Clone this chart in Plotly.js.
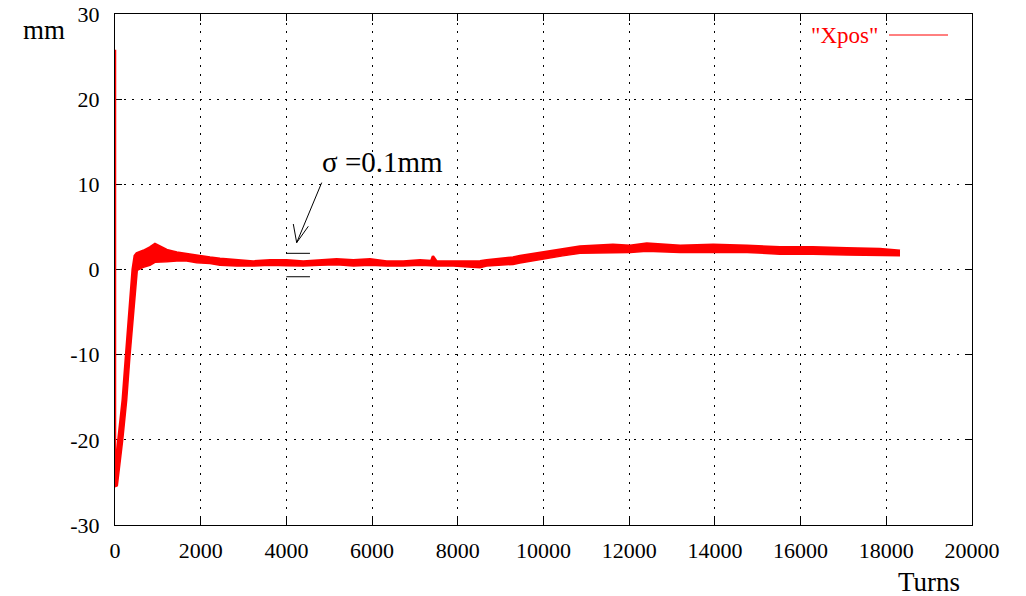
<!DOCTYPE html>
<html>
<head>
<meta charset="utf-8">
<script src="https://cdn.plot.ly/plotly-3.0.1.min.js"></script>
<style>html,body{margin:0;padding:0;background:#fff;}#chart{width:1026px;height:596px;}</style>
</head>
<body>
<div id="chart"></div>
<script>
// Upper envelope of the "Xpos" trace (turns, mm)
const upperTurns = [0, 0, 78, 180, 257, 335, 412, 460, 506, 661, 817, 933, 1050, 1206, 1440, 1673, 1906, 2217, 2450, 2840, 3227, 3617, 4006, 4394, 4784, 5173, 5562, 5951, 6340, 6728, 7118, 7380, 7420, 7507, 7895, 8284, 8520, 8674, 9062, 9290, 9451, 9990, 10450, 10850, 11620, 12020, 12410, 13190, 13960, 14750, 15520, 16290, 17080, 17850, 18320];
const upperMm    = [25.8, -24.5, -20, -15.3, -10.1, -5.5, 0, 1.6, 1.9, 2.2, 2.6, 3.0, 2.7, 2.3, 2.0, 1.8, 1.6, 1.4, 1.25, 1.1, 0.95, 1.1, 1.1, 0.95, 1.1, 1.2, 1.1, 1.2, 0.95, 0.95, 1.1, 1.0, 1.55, 0.95, 0.95, 0.95, 0.97, 1.1, 1.25, 1.4, 1.6, 2.0, 2.4, 2.7, 2.9, 2.8, 3.05, 2.8, 2.9, 2.8, 2.6, 2.6, 2.5, 2.4, 2.2];
// Lower envelope of the "Xpos" trace (turns, mm)
const lowerTurns = [0, 54, 180, 273, 350, 428, 520, 661, 817, 933, 1050, 1206, 1440, 1673, 1906, 2217, 2450, 2840, 3227, 3617, 4006, 4394, 4784, 5173, 5562, 5951, 6340, 6728, 7118, 7507, 7895, 8284, 8520, 8674, 9062, 9290, 9451, 9990, 10450, 10850, 11620, 12020, 12410, 13190, 13960, 14750, 15520, 16290, 17080, 17850, 18320];
const lowerMm    = [-25.5, -25.4, -20, -15.3, -10.1, -5.5, -0.1, 0.25, 0.5, 0.85, 0.85, 0.9, 1.0, 1.0, 0.8, 0.7, 0.5, 0.4, 0.4, 0.5, 0.45, 0.4, 0.5, 0.55, 0.4, 0.5, 0.4, 0.4, 0.5, 0.4, 0.4, 0.3, 0.2, 0.4, 0.55, 0.6, 0.75, 1.25, 1.6, 1.9, 2.0, 2.0, 2.15, 2.0, 2.0, 2.0, 1.8, 1.8, 1.7, 1.6, 1.6];

// Axis ticks
const xTicks = [0, 2000, 4000, 6000, 8000, 10000, 12000, 14000, 16000, 18000, 20000];
const yTicks = [-30, -20, -10, 0, 10, 20, 30];

// Sigma marker annotation (turns, mm)
const sigmaBarTurns = [4000, 4550];
const sigmaBarMm = [1.9, -0.85];
const sigmaLabel = "σ =0.1mm";
const sigmaLabelPos = [4790, 12.6];
const arrowTail = [4824, 10.2];
const arrowHead = [4240, 3.15];
const arrowArmA = [4161, 5.34];
const arrowArmB = [4511, 5.07];

const FONT = "Liberation Serif, Times New Roman, serif";

const traces = [
  {x: lowerTurns, y: lowerMm, type: 'scatter', mode: 'lines',
   line: {color: '#ff0000', width: 1.5}, showlegend: false, hoverinfo: 'skip'},
  {x: upperTurns, y: upperMm, type: 'scatter', mode: 'lines', fill: 'tonexty',
   fillcolor: '#ff0000', line: {color: '#ff0000', width: 2.5}, name: '"Xpos"', showlegend: false}
];

const shapes = sigmaBarMm.map(v => ({
  type: 'line', xref: 'x', yref: 'y', x0: sigmaBarTurns[0], x1: sigmaBarTurns[1], y0: v, y1: v,
  line: {color: '#000', width: 1}
}));
shapes.push({
  type: 'path', xref: 'x', yref: 'y',
  path: `M ${arrowTail[0]} ${arrowTail[1]} L ${arrowHead[0]} ${arrowHead[1]} M ${arrowArmA[0]} ${arrowArmA[1]} L ${arrowHead[0]} ${arrowHead[1]} L ${arrowArmB[0]} ${arrowArmB[1]}`,
  line: {color: '#000', width: 1}
});
// legend sample line
shapes.push({type: 'line', xref: 'paper', yref: 'paper', x0: 0.9032, x1: 0.972, y0: 0.9589, y1: 0.9589,
  line: {color: '#ff0000', width: 1}});

const annotations = [
  {text: 'mm', xref: 'paper', yref: 'paper', x: -0.0828, y: 0.9687, xanchor: 'center', yanchor: 'middle',
   showarrow: false, font: {family: FONT, size: 27, color: '#000'}},
  {text: 'Turns', xref: 'paper', yref: 'paper', x: 0.95, y: -0.1115, xanchor: 'center', yanchor: 'middle',
   showarrow: false, font: {family: FONT, size: 27, color: '#000'}},
  {text: '"Xpos"', xref: 'paper', yref: 'paper', x: 0.8926, y: 0.957, xanchor: 'right', yanchor: 'middle',
   showarrow: false, font: {family: FONT, size: 23, color: '#ff0000'}},
  {text: sigmaLabel, xref: 'x', yref: 'y', x: sigmaLabelPos[0], y: sigmaLabelPos[1], xanchor: 'left', yanchor: 'middle',
   showarrow: false, font: {family: FONT, size: 29, color: '#000'}}
];

const axisCommon = {
  ticks: 'inside', ticklen: 7, tickwidth: 1, tickcolor: '#000',
  showline: true, linecolor: '#000', linewidth: 1, mirror: 'allticks',
  showgrid: true, gridcolor: '#000', gridwidth: 1, griddash: '2px,6.5px',
  zeroline: false, layer: 'below traces', tickfont: {family: FONT, size: 22, color: '#000'}
};

const layout = {
  width: 1026, height: 596,
  margin: {l: 115, r: 54, t: 14, b: 71, pad: 0},
  paper_bgcolor: '#fff', plot_bgcolor: '#fff',
  showlegend: false,
  xaxis: Object.assign({}, axisCommon, {range: [0, 20000], tickmode: 'array', tickvals: xTicks,
    ticktext: xTicks.map(String), ticklabelstandoff: 6}),
  yaxis: Object.assign({}, axisCommon, {range: [-30, 30], tickmode: 'array', tickvals: yTicks,
    ticktext: yTicks.map(String), ticklabelstandoff: 10}),
  shapes: shapes,
  annotations: annotations
};

Plotly.newPlot('chart', traces, layout, {displayModeBar: false, staticPlot: true});
</script>
</body>
</html>
